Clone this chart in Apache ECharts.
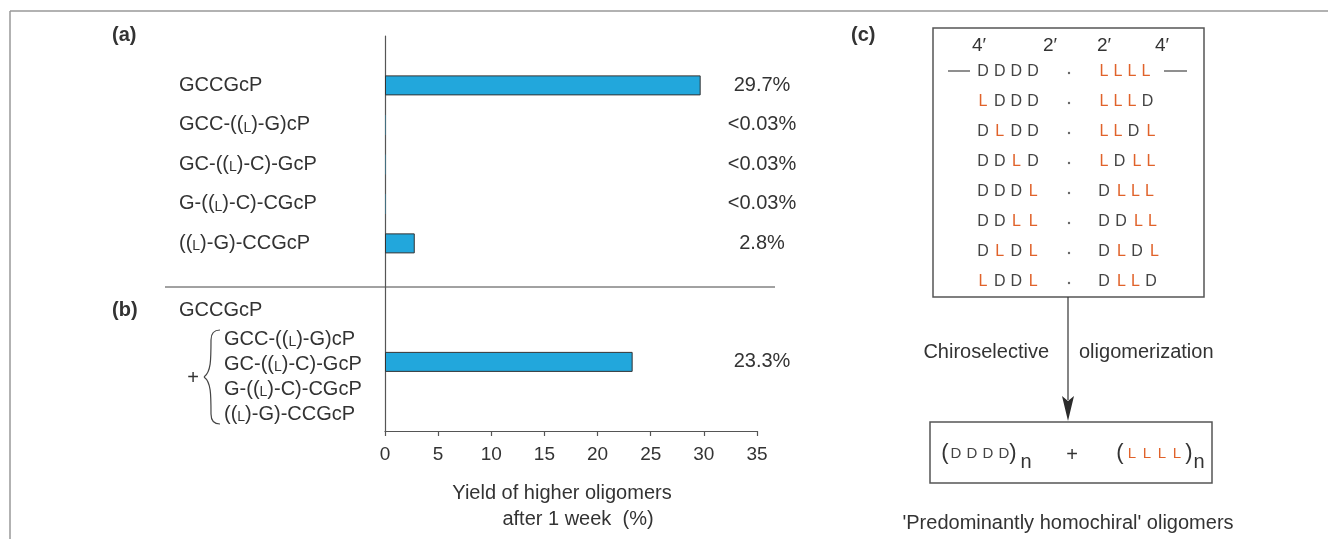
<!DOCTYPE html>
<html>
<head>
<meta charset="utf-8">
<script src="https://cdn.jsdelivr.net/npm/echarts@6/dist/echarts.min.js"></script>
<style>
  html, body { margin: 0; padding: 0; background: #fff; }
  #main { width: 1328px; height: 539px; }
</style>
</head>
<body>
<div id="main"></div>
<script>
// panel (a) rows top to bottom, last entry is the mixture of panel (b)
const rowLabels = ['GCCGcP', 'GCC-((L)-G)cP', 'GC-((L)-C)-GcP', 'G-((L)-C)-CGcP', '((L)-G)-CCGcP', ''];
const yieldValues = [29.7, 0.03, 0.03, 0.03, 2.8, 23.3];
const yieldTexts = ['29.7%', '<0.03%', '<0.03%', '<0.03%', '2.8%', '23.3%'];
const mixtureHead = 'GCCGcP';
const mixtureLabels = ['GCC-((L)-G)cP', 'GC-((L)-C)-GcP', 'G-((L)-C)-CGcP', '((L)-G)-CCGcP'];
const xMin = 0, xMax = 35, xStep = 5;
const xName = ['Yield of higher oligomers', 'after 1 week  (%)'];

// panel (c)
const primeLabels = ['4′', '2′', '2′', '4′'];
const leftSeqs = ['DDDD', 'LDDD', 'DLDD', 'DDLD', 'DDDL', 'DDLL', 'DLDL', 'LDDL'];
const rightSeqs = ['LLLL', 'LLLD', 'LLDL', 'LDLL', 'DLLL', 'DDLL', 'DLDL', 'DLLD'];
const arrowLeft = 'Chiroselective';
const arrowRight = 'oligomerization';
const footer = "'Predominantly homochiral' oligomers";

// layout
const FONT = '"Liberation Sans", Arial, Helvetica, sans-serif';
const INK = '#333';
const ORANGE = '#e0622a';
const slotCount = 20;
const rowSlots = [2, 4, 6, 8, 10, 16];

const slotNames = [];
const barData = [];
const rightTexts = [];
const leftTexts = [];
for (let i = 0; i < slotCount; i++) {
  slotNames.push('s' + i);
  barData.push(null);
  rightTexts.push('');
  leftTexts.push('');
}
rowSlots.forEach((s, i) => {
  const v = yieldValues[i];
  // trace amounts get no outline so they vanish into the axis, as in the print
  barData[s] = v < 0.1 ? {value: v, itemStyle: {borderWidth: 0}} : v;
  rightTexts[s] = yieldTexts[i];
  leftTexts[s] = rowLabels[i];
});

function smallL(s) {
  return s.replace(/\(L\)/g, '({s|L})');
}

function txt(x, y, text, o) {
  o = o || {};
  return {
    type: 'text', x: x, y: y, silent: true,
    style: {
      text: text,
      fill: o.fill || INK,
      fontFamily: FONT,
      fontSize: o.size || 20,
      fontWeight: o.weight || 'normal',
      textAlign: o.align || 'left',
      textVerticalAlign: 'middle',
      rich: o.rich
    }
  };
}

function line(x1, y1, x2, y2, w, c) {
  return {
    type: 'line', silent: true,
    shape: {x1: x1, y1: y1, x2: x2, y2: y2},
    style: {stroke: c || '#555', lineWidth: w || 1}
  };
}

function rect(x, y, w, h) {
  return {
    type: 'rect', silent: true,
    shape: {x: x, y: y, width: w, height: h},
    style: {fill: 'none', stroke: '#555', lineWidth: 1.5}
  };
}

const richL = {s: {fontSize: 14, fontFamily: FONT, verticalAlign: 'bottom'}};

const graphics = [];
// frame
graphics.push(line(10, 11, 1328, 11, 1.5, '#999'));
graphics.push(line(10, 11, 10, 539, 1.5, '#999'));
// panel letters
graphics.push(txt(112, 35, '(a)', {weight: 'bold'}));
graphics.push(txt(112, 310, '(b)', {weight: 'bold'}));
graphics.push(txt(851, 35, '(c)', {weight: 'bold'}));
// divider between (a) and (b)
graphics.push(line(165, 287, 775, 287, 1, '#444'));
// (b) block
graphics.push(txt(179, 310, mixtureHead));
graphics.push(txt(193, 378, '+', {align: 'center'}));
mixtureLabels.forEach((l, i) => {
  graphics.push(txt(224, 339 + i * 25, smallL(l), {rich: richL}));
});
// curly brace
const brace = [
  [220, 330, 213, 330, 211, 334, 211, 340],
  [211, 340, 211, 360, 211, 372, 204, 377],
  [204, 377, 211, 382, 211, 394, 211, 414],
  [211, 414, 211, 420, 213, 424, 220, 424]
];
brace.forEach(b => {
  graphics.push({
    type: 'bezierCurve', silent: true,
    shape: {x1: b[0], y1: b[1], cpx1: b[2], cpy1: b[3], cpx2: b[4], cpy2: b[5], x2: b[6], y2: b[7]},
    style: {stroke: '#444', lineWidth: 1.2, fill: 'none'}
  });
});

// panel (c) upper box
graphics.push(rect(933, 28, 271, 269));
const primeX = [979, 1050, 1104, 1162];
primeLabels.forEach((p, i) => graphics.push(txt(primeX[i], 46, p, {align: 'center', size: 19})));
const rowY0 = 72, rowStep = 30;
const rightAdv = {LL: 14, LD: 15.5, DL: 17.5, DD: 17};
function letter(x, y, ch, size) {
  return txt(x, y, ch, {align: 'center', size: size || 16, fill: ch === 'L' ? ORANGE : '#444'});
}
leftSeqs.forEach((seq, r) => {
  const y = rowY0 + r * rowStep;
  for (let k = 0; k < seq.length; k++) {
    graphics.push(letter(983 + k * 16.7, y, seq[k]));
  }
});
rightSeqs.forEach((seq, r) => {
  const y = rowY0 + r * rowStep;
  let x = 1104;
  for (let k = 0; k < seq.length; k++) {
    if (k > 0) x += rightAdv[seq[k - 1] + seq[k]];
    graphics.push(letter(x, y, seq[k]));
  }
  graphics.push({type: 'circle', silent: true, shape: {cx: 1069, cy: y + 1, r: 1.2}, style: {fill: '#666'}});
});
graphics.push(line(948, 71, 970, 71, 1.2, '#444'));
graphics.push(line(1164, 71, 1187, 71, 1.2, '#444'));

// arrow
graphics.push(line(1068, 297, 1068, 400, 1.2, '#333'));
graphics.push({
  type: 'polygon', silent: true,
  shape: {points: [[1062, 396], [1068, 401], [1074, 396], [1068, 421]]},
  style: {fill: '#2b2b2b'}
});
graphics.push(txt(1049, 352, arrowLeft, {align: 'right'}));
graphics.push(txt(1079, 352, arrowRight));

// lower box
graphics.push(rect(930, 422, 282, 61));
graphics.push(txt(945, 453, '(', {align: 'center', size: 22}));
['D', 'D', 'D', 'D'].forEach((c, i) => graphics.push(letter(956 + i * 16, 454, c, 15)));
graphics.push(txt(1013, 453, ')', {align: 'center', size: 22}));
graphics.push(txt(1026, 462, 'n', {align: 'center', size: 20}));
graphics.push(txt(1072, 455, '+', {align: 'center', size: 20}));
graphics.push(txt(1120, 453, '(', {align: 'center', size: 22}));
['L', 'L', 'L', 'L'].forEach((c, i) => graphics.push(letter(1132 + i * 15, 454, c, 15)));
graphics.push(txt(1189, 453, ')', {align: 'center', size: 22}));
graphics.push(txt(1199, 462, 'n', {align: 'center', size: 20}));
graphics.push(txt(1068, 523, footer, {align: 'center'}));

const chart = echarts.init(document.getElementById('main'), null, {renderer: 'canvas'});
const option = {
  backgroundColor: '#fff',
  animation: false,
  grid: {left: 385, right: 571, top: 36, bottom: 108, containLabel: false, outerBoundsMode: 'none'},
  xAxis: {
    type: 'value',
    min: xMin,
    max: xMax,
    interval: xStep,
    axisLine: {show: true, lineStyle: {color: '#555', width: 1.2}},
    axisTick: {show: true, length: 5, lineStyle: {color: '#555', width: 1.2}},
    axisLabel: {color: INK, fontSize: 19, fontFamily: FONT, margin: 14},
    splitLine: {show: false},
    name: '{a|' + xName[0] + '}\n{b|' + xName[1] + '}',
    nameLocation: 'middle',
    nameGap: 49,
    nameTextStyle: {
      color: INK, fontSize: 20, fontFamily: FONT, lineHeight: 26,
      rich: {
        a: {fontSize: 20, fontFamily: FONT, color: INK, lineHeight: 26, padding: [0, 18, 0, 0]},
        b: {fontSize: 20, fontFamily: FONT, color: INK, lineHeight: 26, padding: [0, 0, 0, 14]}
      }
    }
  },
  yAxis: [
    {
      type: 'category',
      inverse: true,
      data: slotNames,
      axisLine: {show: true, lineStyle: {color: '#555', width: 1.2}},
      axisTick: {show: false},
      axisLabel: {
        interval: 0,
        align: 'left',
        margin: 206,
        color: INK,
        fontSize: 20,
        fontFamily: FONT,
        formatter: (v, i) => smallL(leftTexts[i]),
        rich: {s: {fontSize: 14, fontFamily: FONT, color: INK, verticalAlign: 'bottom'}}
      },
      splitLine: {show: false}
    },
    {
      type: 'category',
      inverse: true,
      position: 'right',
      data: slotNames,
      axisLine: {show: false},
      axisTick: {show: false},
      axisLabel: {
        interval: 0,
        align: 'center',
        margin: 5,
        color: INK,
        fontSize: 20,
        fontFamily: FONT,
        formatter: (v, i) => rightTexts[i]
      },
      splitLine: {show: false}
    }
  ],
  series: [{
    type: 'bar',
    data: barData,
    barWidth: 20,
    itemStyle: {color: '#22a7dc', borderColor: '#333', borderWidth: 1}
  }],
  graphic: graphics
};
chart.setOption(option);
window.addEventListener('resize', () => chart.resize());
</script>
</body>
</html>
